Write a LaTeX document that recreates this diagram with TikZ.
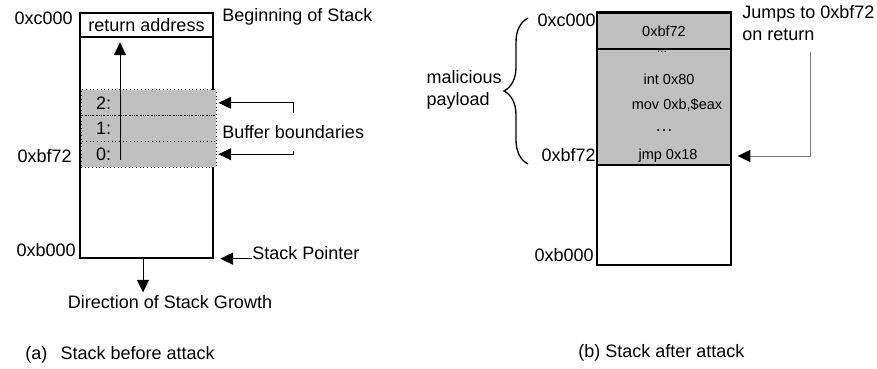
\documentclass[tikz,border=0pt]{standalone}
\usepackage{fontspec}
\setmainfont{Liberation Sans}
\usepackage{tikz}
\usepackage{xcolor}
\usetikzlibrary{arrows.meta,decorations.pathreplacing}

\definecolor{stackgray}{HTML}{C0C0C0}
\tikzset{
  lbl/.style={inner sep=0pt,font=\fontsize{13.5}{16.5}\selectfont},
  ins/.style={inner sep=0pt,font=\fontsize{10.9}{13}\selectfont},
  frame/.style={draw,line width=1pt},
  buf/.style={draw,dotted,line width=0.75pt,fill=stackgray,minimum width=101.25pt,minimum height=19.25pt,text width=78.75pt,inner xsep=11.25pt,inner ysep=0pt,align=left,font=\fontsize{13.5}{16.5}\selectfont},
  tip/.style={line width=0.75pt,-{Triangle[length=9.5pt,width=9pt]}},
  graytip/.style={line width=0.75pt,draw=gray,-{Triangle[length=9.5pt,width=9pt,color=black]}}
}

\begin{document}
\begin{tikzpicture}[x=0.75pt,y=-0.75pt]
\useasboundingbox (0,0) rectangle (877,368);
% (a) before attack
\node[frame,minimum width=99.75pt,minimum height=183.75pt] (stackA) at (146.5,135.5) {};
\node[frame,lbl,minimum width=99.75pt,minimum height=18pt] (retA) at (146.5,25) {return address};
\node[buf] (buf2) at (148.5,102.8) {2:};
\node[buf] (buf1) at (148.5,128.5) {1:};
\node[buf] (buf0) at (148.5,154.2) {0:};
\coordinate (growA) at (120,160);
\draw[tip] (growA) -- ([yshift=-3.5pt]retA.south -| growA);
\node[lbl,anchor=east] (topA) at (73,18) {0xc000};
\node[lbl,anchor=east] (midA) at (72,156) {0xbf72};
\node[lbl,anchor=east] (botA) at (76,250) {0xb000};
\node[lbl,anchor=west] (beginA) at (222,17) {Beginning of Stack};
\node[lbl,anchor=west] (bounds) at (222,132) {Buffer boundaries};
\coordinate (tick2) at (293,113);
\coordinate (tick0) at (293,151);
\draw[tip] (tick2) |- ([xshift=1.5pt]buf2.east);
\draw[tip] (tick0) |- ([xshift=1.5pt]buf0.east);
\node[lbl,anchor=west] (spA) at (252,253) {Stack Pointer};
\draw[tip] (spA.west |- stackA.south east) -- ([xshift=5pt]stackA.south east);
\coordinate (downA) at ([xshift=-2.6pt]stackA.south);
\node[lbl] (growth) at (170,302) {Direction of Stack Growth};
\draw[tip] (downA) -- ([yshift=2pt]downA |- growth.north);
\node[lbl,anchor=west] (capA) at (25,355) {(a)\hspace{10pt}Stack before attack};
% (b) after attack
\node[frame,minimum width=100.5pt,minimum height=189pt] (stackB) at (664,139) {};
\node[frame,fill=stackgray,minimum width=100.5pt,minimum height=87pt] (codeB) at (664,107) {};
\node[frame,ins,fill=stackgray,minimum width=100.5pt,minimum height=27pt] (retB) at (664,31) {0xbf72};
\draw[line width=2.4pt] (stackB.north west) -- (stackB.north east);
\node[inner sep=0pt,font=\fontsize{8}{9}\selectfont] (dots1) at (662,52) {\ldots};
\node[ins] (intB) at (669,79) {int 0x80};
\node[ins] (movB) at (677,105) {mov 0xb,\$eax};
\node[lbl] (dots2) at (664,131) {\ldots};
\node[ins] (jmpB) at (668,156) {jmp 0x18};
\node[lbl,anchor=east] (topB) at (596,20) {0xc000};
\node[lbl,anchor=east] (midB) at (596,155) {0xbf72};
\node[lbl,anchor=east] (botB) at (594,255) {0xb000};
\coordinate (braceTop) at (528,18);
\coordinate (braceBot) at (528,164);
\draw[decorate,decoration={brace,amplitude=18pt},line width=1pt] (braceBot) -- (braceTop);
\node[lbl,anchor=east,align=left] (payload) at (502,90) {malicious\\payload};
\node[lbl,anchor=north west,align=left] (jumps) at (742,5) {Jumps to 0xbf72\\on return};
\coordinate (jumpTop) at (810,52);
\draw[graytip] (jumpTop) |- ([xshift=4.5pt]stackB.east |- jmpB);
\node[lbl,anchor=west] (capB) at (578,353) {(b) Stack after attack};
\end{tikzpicture}
\end{document}
